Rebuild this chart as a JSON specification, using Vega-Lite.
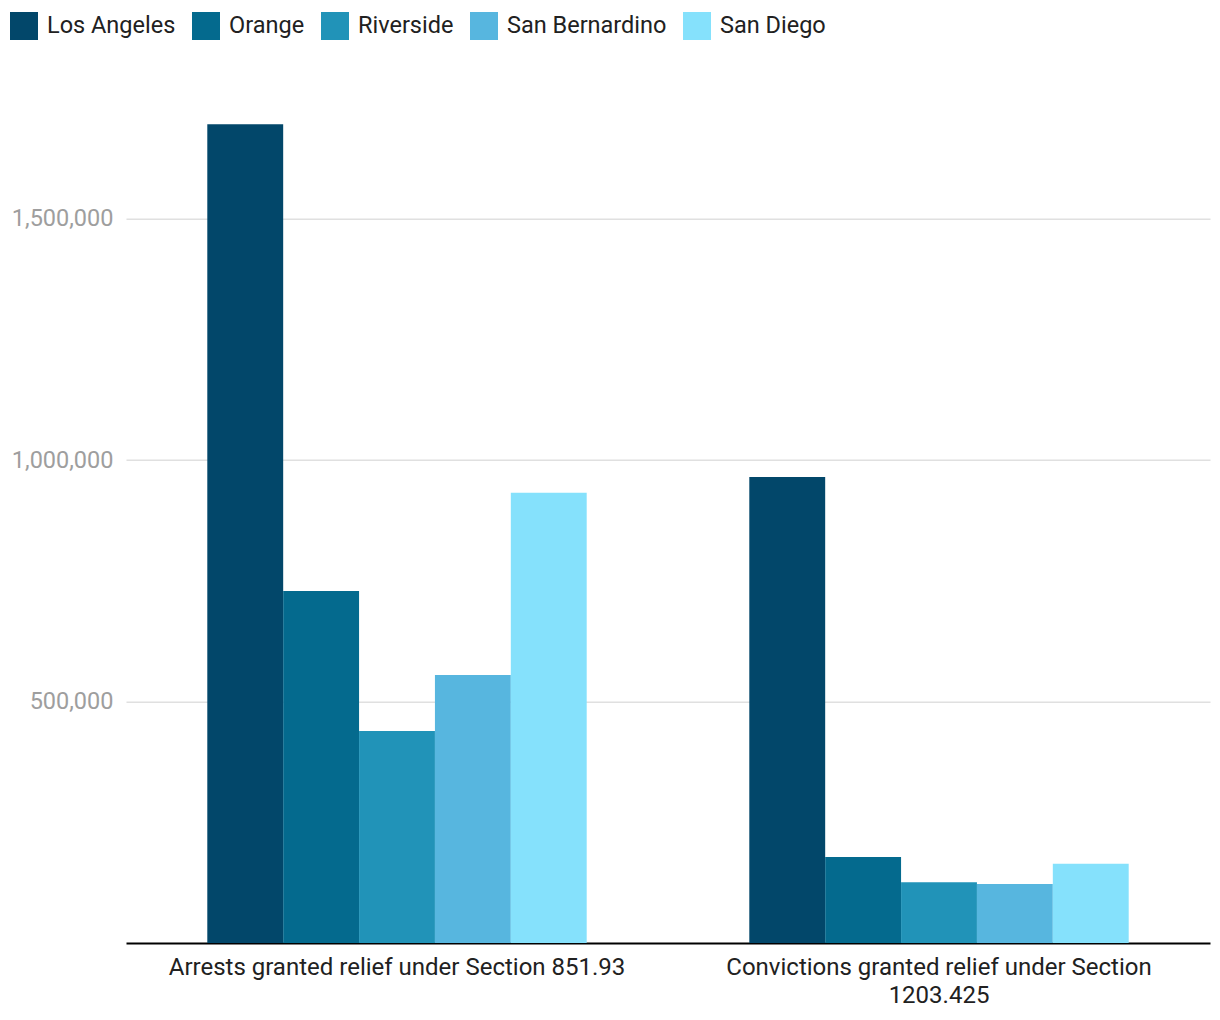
{
  "$schema": "https://vega.github.io/schema/vega-lite/v6.json",
  "width": 1084,
  "height": 845.25,
  "autosize": {"type": "none"},
  "padding": {"left": 126, "top": 97.75, "right": 10, "bottom": 77},
  "background": "#ffffff",
  "config": {
    "font": "Roboto",
    "view": {"stroke": null}
  },
  "data": {
    "values": [
      {"category": "Arrests granted relief under Section 851.93", "county": "Los Angeles", "value": 1695000},
      {"category": "Arrests granted relief under Section 851.93", "county": "Orange", "value": 729000},
      {"category": "Arrests granted relief under Section 851.93", "county": "Riverside", "value": 439000},
      {"category": "Arrests granted relief under Section 851.93", "county": "San Bernardino", "value": 555000},
      {"category": "Arrests granted relief under Section 851.93", "county": "San Diego", "value": 932000},
      {"category": "Convictions granted relief under Section 1203.425", "county": "Los Angeles", "value": 965000},
      {"category": "Convictions granted relief under Section 1203.425", "county": "Orange", "value": 178000},
      {"category": "Convictions granted relief under Section 1203.425", "county": "Riverside", "value": 126000},
      {"category": "Convictions granted relief under Section 1203.425", "county": "San Bernardino", "value": 122000},
      {"category": "Convictions granted relief under Section 1203.425", "county": "San Diego", "value": 164000}
    ]
  },
  "mark": {"type": "bar"},
  "encoding": {
    "x": {
      "field": "category",
      "type": "nominal",
      "sort": null,
      "scale": {"paddingInner": 0.3, "paddingOuter": 0.15},
      "axis": {
        "title": null,
        "labelAngle": 0,
        "labelFont": "Roboto",
        "labelFontSize": 24,
        "labelColor": "#212121",
        "labelPadding": 12,
        "labelLineHeight": 28,
        "labelLimit": 600,
        "labelExpr": "datum.value == 'Convictions granted relief under Section 1203.425' ? ['Convictions granted relief under Section', '1203.425'] : datum.value",
        "ticks": false,
        "domainColor": "#000000",
        "domainWidth": 2,
        "grid": false
      }
    },
    "xOffset": {
      "field": "county",
      "type": "nominal",
      "sort": ["Los Angeles", "Orange", "Riverside", "San Bernardino", "San Diego"],
      "scale": {"paddingInner": 0, "paddingOuter": 0}
    },
    "y": {
      "field": "value",
      "type": "quantitative",
      "scale": {"domain": [0, 1750000], "nice": false},
      "axis": {
        "title": null,
        "values": [500000, 1000000, 1500000],
        "format": ",d",
        "labelFont": "Roboto",
        "labelFontSize": 23.5,
        "labelColor": "#9e9e9e",
        "labelPadding": 13,
        "ticks": false,
        "domain": false,
        "grid": true,
        "gridColor": "#e0e0e0",
        "gridWidth": 1.5
      }
    },
    "color": {
      "field": "county",
      "type": "nominal",
      "sort": ["Los Angeles", "Orange", "Riverside", "San Bernardino", "San Diego"],
      "scale": {
        "domain": ["Los Angeles", "Orange", "Riverside", "San Bernardino", "San Diego"],
        "range": ["#02476A", "#046A8E", "#2193B8", "#57B6DF", "#85E1FC"]
      },
      "legend": {
        "title": null,
        "orient": "none",
        "direction": "horizontal",
        "legendX": -116,
        "legendY": -85.75,
        "symbolType": "square",
        "symbolSize": 784,
        "symbolStrokeWidth": 0,
        "symbolOffset": 0,
        "labelOffset": 9,
        "labelFont": "Roboto",
        "labelFontSize": 23.5,
        "labelColor": "#212121",
        "labelLimit": 400,
        "columnPadding": 16,
        "padding": 0
      }
    }
  }
}
